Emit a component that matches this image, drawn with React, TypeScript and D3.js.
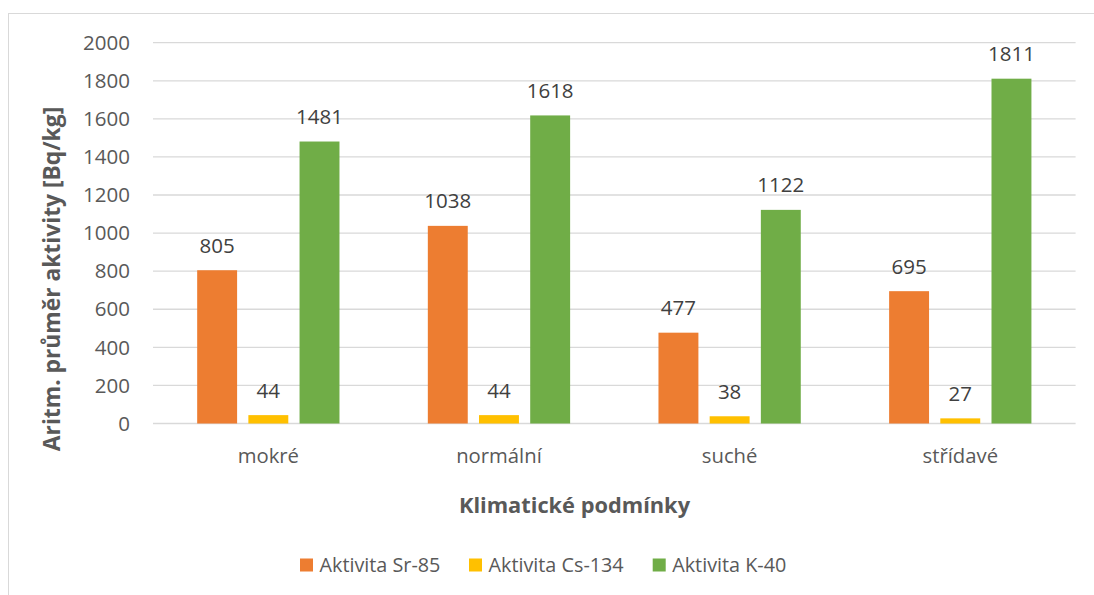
import React from "react";
import * as d3 from "d3";

const categories = ["mokré", "normální", "suché", "střídavé"];
const seriesNames = ["Aktivita Sr-85", "Aktivita Cs-134", "Aktivita K-40"];
const sr85 = [805, 1038, 477, 695];
const cs134 = [44, 44, 38, 27];
const k40 = [1481, 1618, 1122, 1811];
const seriesColors = ["#ED7D31", "#FFC000", "#70AD47"];
const yTicks = [0, 200, 400, 600, 800, 1000, 1200, 1400, 1600, 1800, 2000];

const FONT = "'Open Sans', 'Noto Sans', sans-serif";

export default function App() {
  const W = 1094;
  const H = 595;
  const left = 153;
  const right = 1075.6;
  const top = 42.7;
  const bottom = 423.5;

  const series = [sr85, cs134, k40];

  const x0 = d3.scaleBand<string>().domain(categories).range([left, right]).padding(0);
  const groupW = 142.3;
  const x1 = d3
    .scaleBand<number>()
    .domain([0, 1, 2])
    .range([-groupW / 2, groupW / 2])
    .paddingInner(0.22)
    .paddingOuter(0);
  const y = d3.scaleLinear().domain([0, 2000]).range([bottom, top]);

  const legendX = [300, 469, 652.7];

  return (
    <svg
      width={W}
      height={H}
      style={{ position: "absolute", left: 0, top: 0, background: "#fff" }}
      fontFamily={FONT}
    >
      <rect x={0} y={0} width={W} height={H} fill="#fff" />
      <rect x={8.5} y={13.5} width={1200} height={700} fill="none" stroke="#D9D9D9" strokeWidth={1} />

      {yTicks.map((t) => (
        <g key={t}>
          <line x1={left} x2={right} y1={y(t)} y2={y(t)} stroke="#D9D9D9" strokeWidth={1.3} />
          <text
            x={130}
            y={y(t)}
            dy="0.35em"
            textAnchor="end"
            fontSize={20.5}
            fill="#595959"
          >
            {t}
          </text>
        </g>
      ))}

      {categories.map((c, ci) => {
        const cx = (x0(c) as number) + x0.bandwidth() / 2;
        return (
          <g key={c}>
            {series.map((s, si) => {
              const bx = cx + (x1(si) as number);
              const v = s[ci];
              return (
                <g key={si}>
                  <rect
                    x={bx}
                    y={y(v)}
                    width={x1.bandwidth()}
                    height={bottom - y(v)}
                    fill={seriesColors[si]}
                  />
                  <text
                    x={bx + x1.bandwidth() / 2}
                    y={y(v) - 17.4}
                    textAnchor="middle"
                    fontSize={20.5}
                    fill="#404040"
                  >
                    {v}
                  </text>
                </g>
              );
            })}
            <text x={cx} y={463} textAnchor="middle" fontSize={20.3} fill="#595959">
              {c}
            </text>
          </g>
        );
      })}

      <text
        transform={`translate(60, 279) rotate(-90)`}
        textAnchor="middle"
        fontSize={22.8}
        fontWeight="bold"
        fill="#595959"
      >
        Aritm. průměr aktivity [Bq/kg]
      </text>

      <text x={574.5} y={513} textAnchor="middle" fontSize={21.8} fontWeight="bold" fill="#595959">
        Klimatické podmínky
      </text>

      {seriesNames.map((n, i) => (
        <g key={n}>
          <rect x={legendX[i]} y={558.5} width={13} height={13} fill={seriesColors[i]} />
          <text x={legendX[i] + 19.5} y={565} dy="0.35em" fontSize={19.8} fill="#595959">
            {n}
          </text>
        </g>
      ))}
    </svg>
  );
}
